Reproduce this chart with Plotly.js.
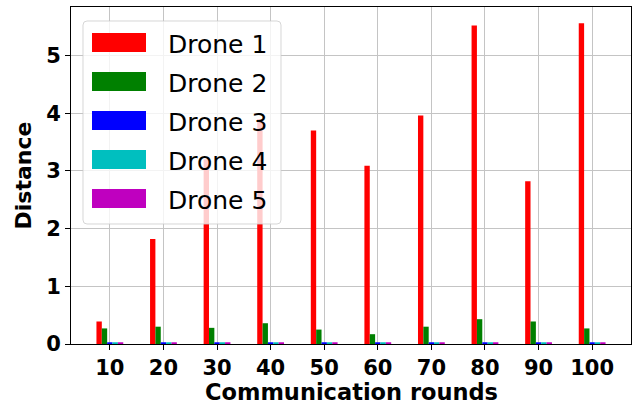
<!DOCTYPE html>
<html>
<head>
<meta charset="utf-8">
<script src="https://cdn.plot.ly/plotly-3.0.1.min.js"></script>
<style>html,body{margin:0;padding:0;background:#fff;}#chart{width:632px;height:406px;}</style>
</head>
<body>
<div id="chart"></div>
<script>
const rounds = [10, 20, 30, 40, 50, 60, 70, 80, 90, 100];
const seriesNames = ["Drone 1", "Drone 2", "Drone 3", "Drone 4", "Drone 5"];
const seriesColors = ["#ff0000", "#008000", "#0000ff", "#00bfbf", "#bf00bf"];
const drone1 = [0.39, 1.82, 3.20, 3.90, 3.70, 3.09, 3.96, 5.52, 2.82, 5.56];
const drone2 = [0.27, 0.30, 0.28, 0.36, 0.25, 0.17, 0.30, 0.43, 0.39, 0.27];
const drone3 = [0.03, 0.03, 0.03, 0.03, 0.03, 0.03, 0.03, 0.03, 0.03, 0.03];
const drone4 = [0.03, 0.03, 0.03, 0.03, 0.03, 0.03, 0.03, 0.03, 0.03, 0.03];
const drone5 = [0.03, 0.03, 0.03, 0.03, 0.03, 0.03, 0.03, 0.03, 0.03, 0.03];
const allSeries = [drone1, drone2, drone3, drone4, drone5];
const xTitle = 'Communication rounds';
const yTitle = 'Distance';

const traces = allSeries.map((vals, i) => ({
  type: 'bar',
  x: rounds,
  y: vals,
  name: seriesNames[i],
  marker: {color: seriesColors[i], line: {width: 0}},
  showlegend: false,
  hoverinfo: 'skip'
}));

// plot area in pixels
const M = {l: 71, r: 1, t: 7, b: 62};
const W = 632, H = 406;
const pw = W - M.l - M.r, ph = H - M.t - M.b;
const px = x => (x - M.l) / pw;
const py = y => (H - M.b - y) / ph;

// custom legend (matplotlib style)
const shapes = [];
const annotations = [];
const bx0 = 83, bx1 = 281, by0 = 21, by1 = 224, rad = 4;
const rx = rad / pw, ry = rad / ph;
const X0 = px(bx0), X1 = px(bx1), Y0 = py(by0), Y1 = py(by1);
shapes.push({
  type: 'path', xref: 'paper', yref: 'paper', layer: 'above',
  path: `M ${X0 + rx},${Y0} L ${X1 - rx},${Y0} Q ${X1},${Y0} ${X1},${Y0 - ry} L ${X1},${Y1 + ry} Q ${X1},${Y1} ${X1 - rx},${Y1} L ${X0 + rx},${Y1} Q ${X0},${Y1} ${X0},${Y1 + ry} L ${X0},${Y0 - ry} Q ${X0},${Y0} ${X0 + rx},${Y0} Z`,
  fillcolor: 'rgba(255,255,255,0.8)',
  line: {color: 'rgba(204,204,204,0.8)', width: 1}
});
seriesNames.forEach((nm, i) => {
  const cy = 42.5 + i * 39;
  shapes.push({
    type: 'rect', xref: 'paper', yref: 'paper', layer: 'above',
    x0: px(92), x1: px(146), y0: py(cy - 9.5), y1: py(cy + 9.5),
    fillcolor: seriesColors[i], line: {width: 0}
  });
  annotations.push({
    xref: 'paper', yref: 'paper', x: px(166), y: py(cy + 2),
    xanchor: 'left', yanchor: 'middle', showarrow: false,
    text: nm, font: {family: 'DejaVu Sans', size: 25, color: '#000'}
  });
});

// x axis title placed precisely
annotations.push({
  xref: 'paper', yref: 'paper', x: 0.5, y: py(392),
  xanchor: 'center', yanchor: 'middle', showarrow: false, borderpad: 0,
  text: xTitle, font: {family: 'DejaVu Sans', size: 22.5, weight: 'bold', color: '#000'}
});

const layout = {
  width: W, height: H,
  margin: M,
  paper_bgcolor: '#fff', plot_bgcolor: '#fff',
  font: {family: 'DejaVu Sans', color: '#000'},
  barmode: 'group', bargap: 0.5, bargroupgap: 0,
  xaxis: {
    range: [2.75, 107.25],
    tickvals: rounds, ticktext: rounds.map(String),
    ticks: 'outside', ticklen: 5, tickwidth: 1, tickcolor: '#000',
    tickfont: {family: 'DejaVu Sans', size: 21, weight: 'bold', color: '#000'},
    showgrid: true, gridcolor: '#c4c4c4', gridwidth: 1,
    showline: true, linecolor: '#000', linewidth: 1, mirror: true,
    zeroline: false
  },
  yaxis: {
    range: [0, 5.84],
    tickvals: [0, 1, 2, 3, 4, 5],
    ticks: 'outside', ticklen: 5, tickwidth: 1, tickcolor: '#000',
    tickfont: {family: 'DejaVu Sans', size: 21, weight: 'bold', color: '#000'},
    showgrid: true, gridcolor: '#c4c4c4', gridwidth: 1,
    showline: true, linecolor: '#000', linewidth: 1, mirror: true,
    zeroline: false,
    title: {text: yTitle, font: {family: 'DejaVu Sans', size: 22, weight: 'bold', color: '#000'}, standoff: 8}
  },
  shapes: shapes,
  annotations: annotations
};

Plotly.newPlot('chart', traces, layout, {displayModeBar: false, staticPlot: true});
</script>
</body>
</html>
